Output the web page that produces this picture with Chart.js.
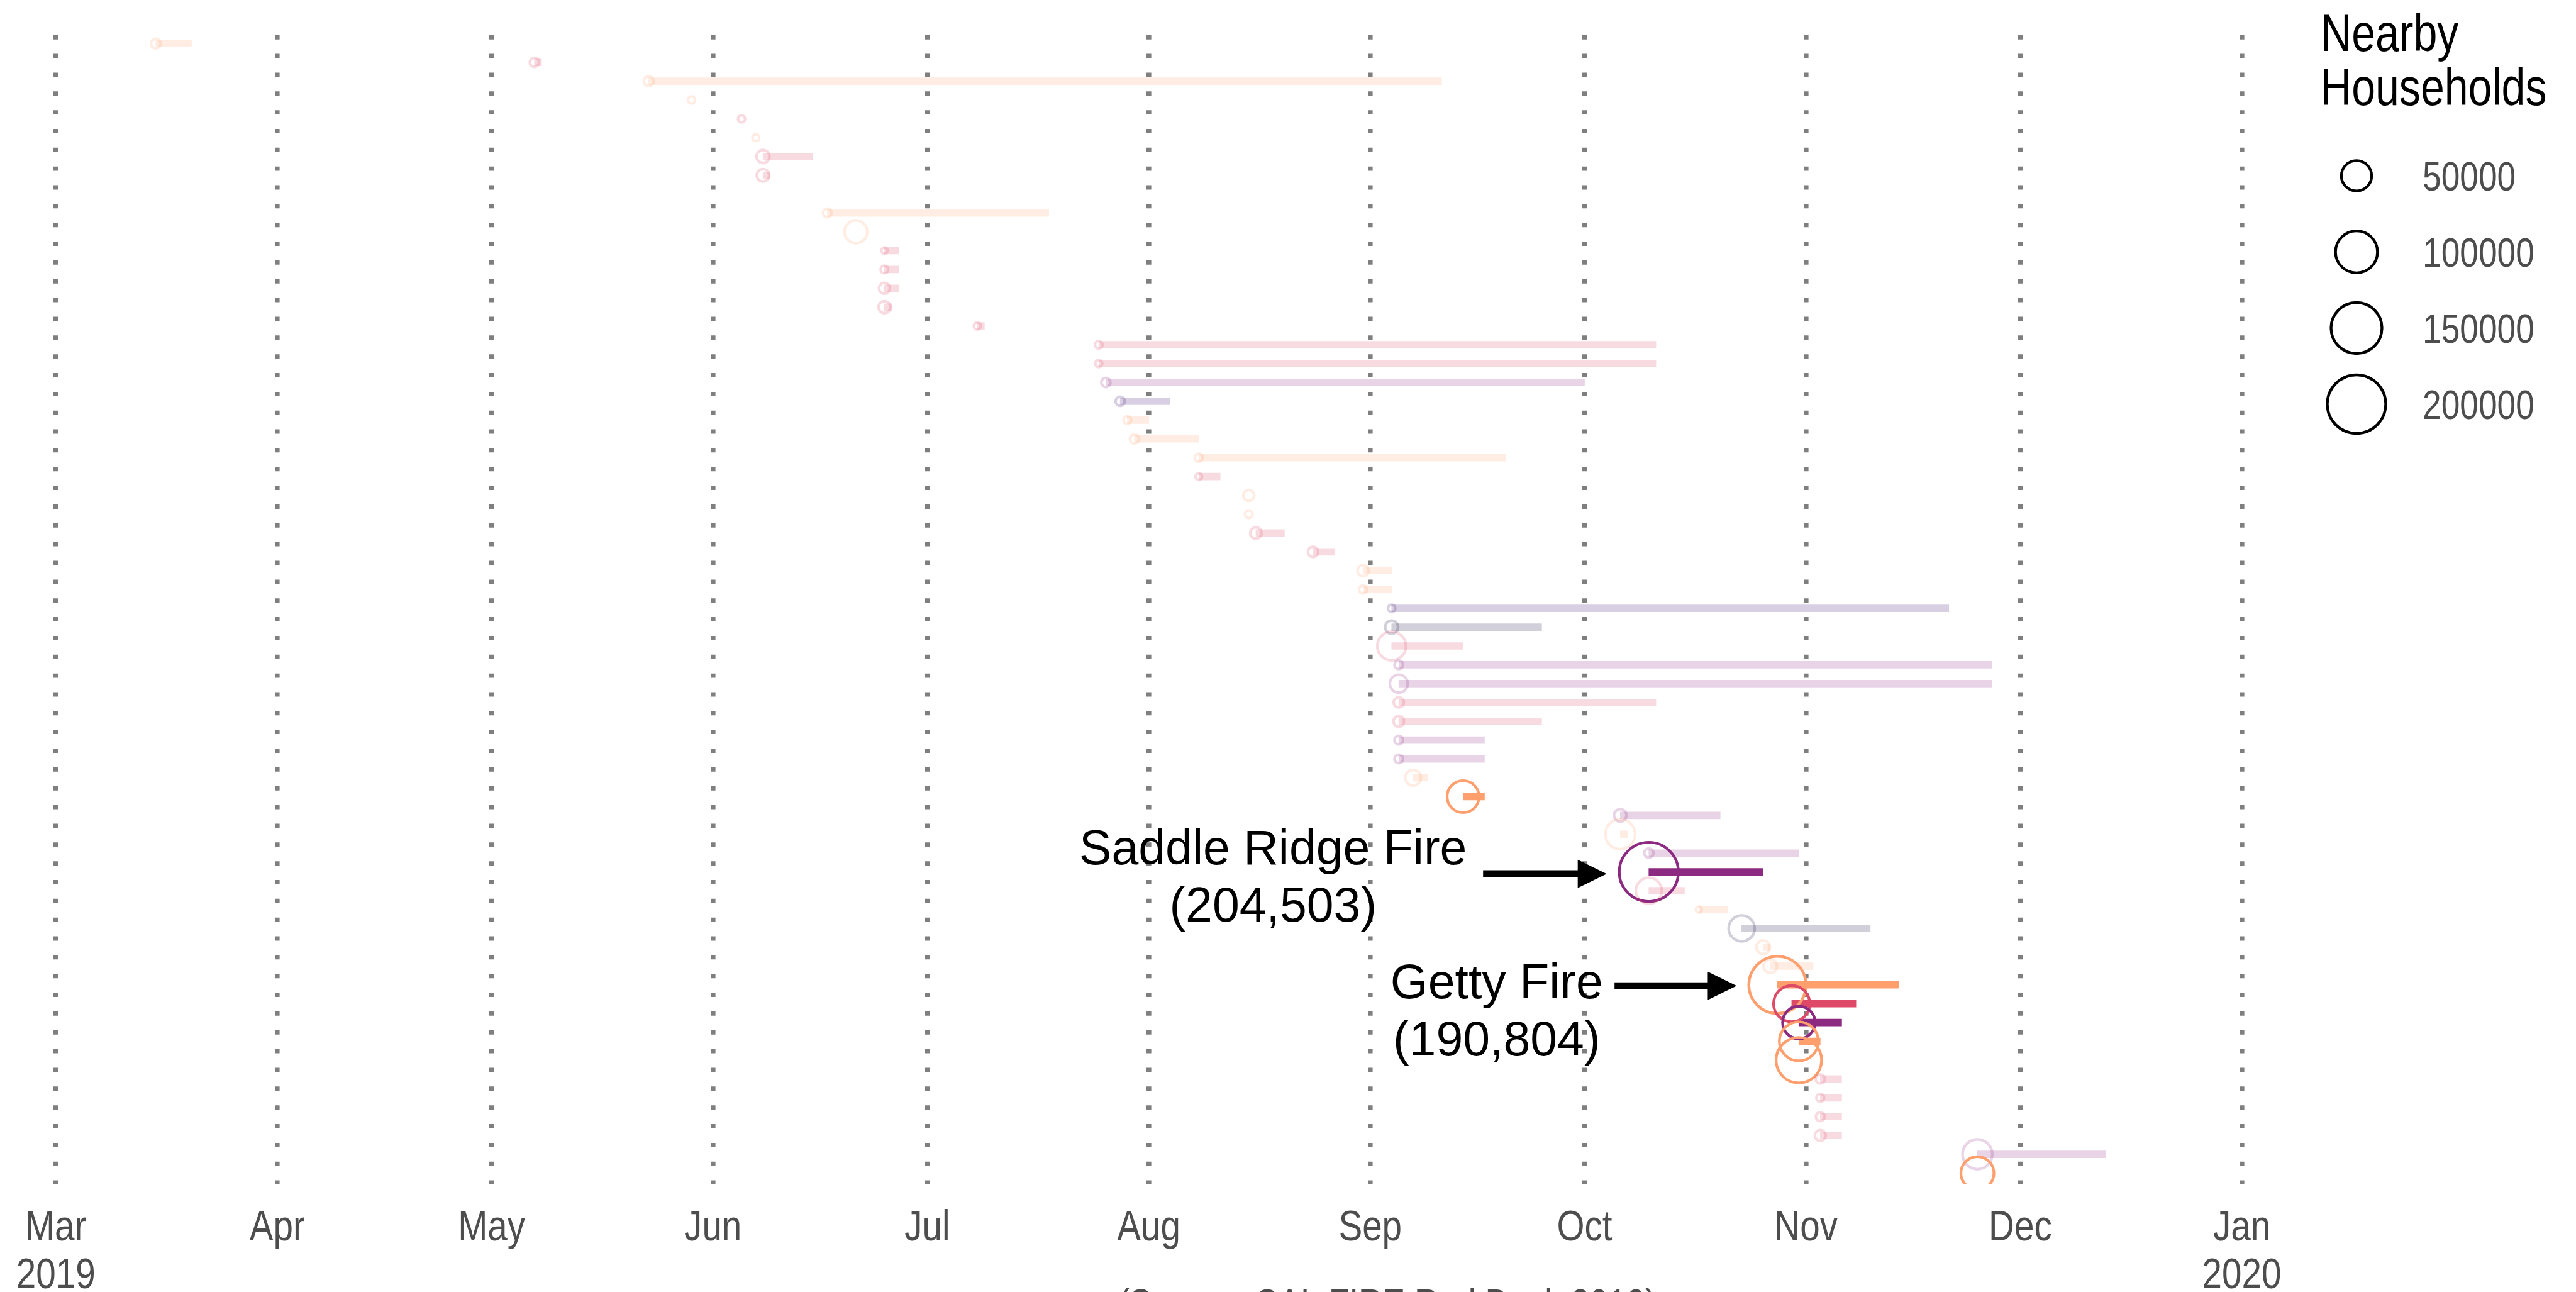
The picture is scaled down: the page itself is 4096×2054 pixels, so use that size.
<!DOCTYPE html>
<html>
<head>
<meta charset="utf-8">
<script src="https://cdn.jsdelivr.net/npm/chart.js@4.4.1/dist/chart.umd.min.js"></script>
<style>
  html, body { margin: 0; padding: 0; background: #fff; }
  canvas { display: block; }
</style>
</head>
<body>
<canvas id="fires" width="4096" height="2054"></canvas>
<script>
// one row per fire, ordered by start date (row 8 has no data)
const startDates = [
  '2019-03-15', '2019-05-07', '2019-05-23', '2019-05-29', '2019-06-05', '2019-06-07', '2019-06-08', '2019-06-08', null, '2019-06-17',
  '2019-06-21', '2019-06-25', '2019-06-25', '2019-06-25', '2019-06-25', '2019-07-08', '2019-07-25', '2019-07-25', '2019-07-26', '2019-07-28',
  '2019-07-29', '2019-07-30', '2019-08-08', '2019-08-08', '2019-08-15', '2019-08-15', '2019-08-16', '2019-08-24', '2019-08-31', '2019-08-31',
  '2019-09-04', '2019-09-04', '2019-09-04', '2019-09-05', '2019-09-05', '2019-09-05', '2019-09-05', '2019-09-05', '2019-09-05', '2019-09-07',
  '2019-09-14', '2019-10-06', '2019-10-06', '2019-10-10', '2019-10-10', '2019-10-10', '2019-10-17', '2019-10-23', '2019-10-26', '2019-10-27',
  '2019-10-28', '2019-10-30', '2019-10-31', '2019-10-31', '2019-10-31', '2019-11-03', '2019-11-03', '2019-11-03', '2019-11-03', '2019-11-25',
  '2019-11-25'
];
const endDates = [
  '2019-03-20', '2019-05-08', '2019-09-11', null, null, null, '2019-06-15', '2019-06-09', null, '2019-07-18',
  null, '2019-06-27', '2019-06-27', '2019-06-27', '2019-06-26', '2019-07-09', '2019-10-11', '2019-10-11', '2019-10-01', '2019-08-04',
  '2019-08-01', '2019-08-08', '2019-09-20', '2019-08-11', null, null, '2019-08-20', '2019-08-27', '2019-09-04', '2019-09-04',
  '2019-11-21', '2019-09-25', '2019-09-14', '2019-11-27', '2019-11-27', '2019-10-11', '2019-09-25', '2019-09-17', '2019-09-17', '2019-09-09',
  '2019-09-17', '2019-10-20', '2019-10-07', '2019-10-31', '2019-10-26', '2019-10-15', '2019-10-21', '2019-11-10', '2019-10-27', '2019-11-02',
  '2019-11-14', '2019-11-08', '2019-11-06', '2019-11-03', null, '2019-11-06', '2019-11-06', '2019-11-06', '2019-11-06', '2019-12-13',
  null
];
const households = [
  3600, 3100, 3600, 1500, 1500, 1340, 7400, 6700, null, 2660,
  26700, 1040, 1850, 4740, 6000, 1500, 1850, 1500, 3100, 3100,
  1850, 3100, 2240, 1180, 4740, 1850, 5350, 4160, 5100, 2240,
  1630, 7400, 44400, 2660, 15560, 4160, 4440, 2660, 2660, 11560,
  56000, 6680, 48100, 3100, 204503, 35800, 900, 35800, 8160, 8160,
  190804, 73400, 58000, 85500, 118400, 3100, 1970, 2800, 4550, 48100,
  60100
];
// 0 near-black, 1 dark purple, 2 purple, 3 pink, 4 orange
const colorGroup = [
  4, 3, 4, 4, 3, 4, 3, 3, null, 4,
  4, 3, 3, 3, 3, 3, 3, 3, 2, 1,
  4, 4, 4, 3, 4, 4, 3, 3, 4, 4,
  1, 0, 3, 2, 2, 3, 3, 2, 2, 4,
  4, 2, 4, 2, 2, 3, 4, 0, 4, 4,
  4, 3, 2, 4, 4, 3, 3, 3, 3, 2,
  4
];
const groupColors = ['#1A1042', '#3B0F70', '#8C2981', '#DE4968', '#FE9F6D'];
const monthStarts = ['2019-03-01', '2019-04-01', '2019-05-01', '2019-06-01', '2019-07-01', '2019-08-01',
  '2019-09-01', '2019-10-01', '2019-11-01', '2019-12-01', '2020-01-01'];
const monthLabels = [['Mar', '2019'], 'Apr', 'May', 'Jun', 'Jul', 'Aug', 'Sep', 'Oct', 'Nov', 'Dec', ['Jan', '2020']];
const legendBreaks = [50000, 100000, 150000, 200000];

const REGULAR = "'Liberation Sans', Arial, sans-serif";
const NARROW_X = 0.82; // the original theme font is a narrow Helvetica
const K = 0.861;
const ringWidth = 4.3;
const plotTop = 50.8, plotBottom = 1883;
const dash = [6.9, 22.95];
const period = dash[0] + dash[1];
const dashOffset = (((dash[0] - (plotBottom - plotTop)) % period) + period) % period;

const day0 = Date.UTC(2019, 2, 1);
const toDay = s => (Date.parse(s + 'T00:00:00Z') - day0) / 86400000;

function ringRadius(v) {
  const outer = K * (9 + 23.25 * Math.sqrt(v / 10000));
  return outer / 2 - ringWidth / 2;
}
function rgba(hex, a) {
  const n = parseInt(hex.slice(1), 16);
  return `rgba(${n >> 16},${(n >> 8) & 255},${n & 255},${a})`;
}
function colorOf(i) {
  return rgba(groupColors[colorGroup[i]], households[i] >= 50000 ? 1 : 0.2);
}
function narrowText(ctx, text, x, y, size, align, color) {
  ctx.save();
  ctx.font = `${size}px ${REGULAR}`;
  ctx.fillStyle = color;
  ctx.textAlign = align;
  ctx.textBaseline = 'alphabetic';
  ctx.translate(x, y);
  ctx.scale(NARROW_X, 1);
  ctx.fillText(text, 0, 0);
  ctx.restore();
}

const bars = [];
const points = [];
startDates.forEach((s, i) => {
  if (!s) return;
  points.push({ x: toDay(s), y: i, v: households[i] });
  if (endDates[i]) bars.push({ x: [toDay(s), toDay(endDates[i])], y: i });
});

const notes = [
  { lines: ['Saddle Ridge Fire', '(204,503)'], x: 170.4, row: 43.6, from: 199.8, to: 217.1, arrowRow: 44.1 },
  { lines: ['Getty Fire', '(190,804)'], x: 201.7, row: 50.7, from: 218.2, to: 235.3, arrowRow: 50.05 }
];

const extras = {
  id: 'extras',
  afterDraw(chart) {
    const ctx = chart.ctx;
    const xs = chart.scales.x, ys = chart.scales.y;

    // month labels under the axis
    xs.ticks.forEach((t, i) => {
      const px = xs.getPixelForValue(t.value);
      [].concat(monthLabels[i]).forEach((line, j) => {
        narrowText(ctx, line, px, 1971.7 + j * 75.8, 69, 'center', '#4D4D4D');
      });
    });

    ctx.save();
    // annotations
    ctx.fillStyle = '#000';
    ctx.strokeStyle = '#000';
    ctx.font = `77px ${REGULAR}`;
    ctx.textAlign = 'center';
    ctx.textBaseline = 'alphabetic';
    notes.forEach(n => {
      const tx = xs.getPixelForValue(n.x);
      const ty = ys.getPixelForValue(n.row);
      n.lines.forEach((t, j) => ctx.fillText(t, tx, ty + j * 91));
      const x1 = xs.getPixelForValue(n.from), x2 = xs.getPixelForValue(n.to);
      const ay = ys.getPixelForValue(n.arrowRow);
      const head = 46;
      ctx.lineWidth = 11.2;
      ctx.beginPath();
      ctx.moveTo(x1, ay);
      ctx.lineTo(x2 - head + 2, ay);
      ctx.stroke();
      ctx.beginPath();
      ctx.moveTo(x2, ay);
      ctx.lineTo(x2 - head, ay - 22.5);
      ctx.lineTo(x2 - head, ay + 22.5);
      ctx.closePath();
      ctx.fill();
    });

    // size legend
    ctx.strokeStyle = '#000';
    ctx.lineWidth = ringWidth;
    legendBreaks.forEach((b, j) => {
      const cy = 279.5 + j * 121;
      ctx.beginPath();
      ctx.arc(3747, cy, ringRadius(b), 0, Math.PI * 2);
      ctx.stroke();
    });
    ctx.restore();

    narrowText(ctx, 'Nearby', 3690, 81, 83, 'left', '#000');
    narrowText(ctx, 'Households', 3690, 167, 83, 'left', '#000');
    legendBreaks.forEach((b, j) => {
      narrowText(ctx, String(b), 3852, 279.5 + j * 121 + 23, 65, 'left', '#4D4D4D');
    });

    // caption, mostly cut off at the bottom edge
    narrowText(ctx, '(Source: CAL FIRE Red Book 2019)', 2206, 2095, 65, 'center', '#4D4D4D');
  }
};

new Chart(document.getElementById('fires'), {
  type: 'bar',
  data: {
    datasets: [
      {
        type: 'bar',
        indexAxis: 'y',
        data: bars,
        backgroundColor: c => (c.raw ? colorOf(c.raw.y) : 'transparent'),
        borderWidth: 0,
        barThickness: 11,
        order: 2
      },
      {
        type: 'scatter',
        data: points,
        pointRadius: c => (c.raw ? ringRadius(c.raw.v) : 0),
        pointBorderColor: c => (c.raw ? colorOf(c.raw.y) : 'transparent'),
        pointBackgroundColor: 'rgba(0,0,0,0)',
        pointBorderWidth: ringWidth,
        order: 1
      }
    ]
  },
  options: {
    responsive: false,
    devicePixelRatio: 1,
    animation: false,
    events: [],
    layout: { padding: { left: 88.7, right: 4096 - 3564.5, top: plotTop, bottom: 0 } },
    plugins: { legend: { display: false }, tooltip: { enabled: false } },
    scales: {
      x: {
        type: 'linear',
        min: 0,
        max: 306,
        offset: false,
        afterBuildTicks: s => { s.ticks = monthStarts.map(d => ({ value: toDay(d) })); },
        afterFit: s => { s.height = 2054 - plotBottom; },
        grid: { offset: false, color: '#7F7F7F', lineWidth: 7.6, drawTicks: false, borderDash: dash, borderDashOffset: dashOffset },
        border: { display: false, dash: dash, dashOffset: dashOffset },
        ticks: { display: false, autoSkip: false, maxRotation: 0, minRotation: 0 }
      },
      y: {
        type: 'linear',
        min: -0.6,
        max: 60.6,
        reverse: true,
        offset: false,
        beginAtZero: false,
        grid: { offset: false },
        display: false
      }
    }
  },
  plugins: [extras]
});
</script>
</body>
</html>
